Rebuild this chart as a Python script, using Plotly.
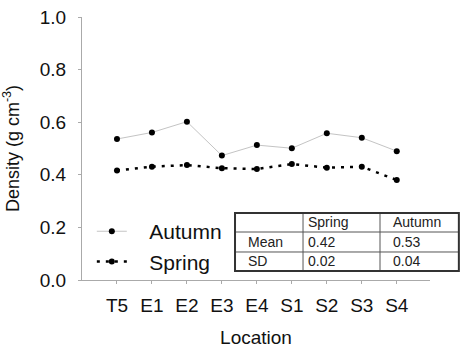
import plotly.graph_objects as go

locations = ["T5", "E1", "E2", "E3", "E4", "S1", "S2", "S3", "S4"]
autumn = [0.536, 0.561, 0.602, 0.473, 0.513, 0.501, 0.558, 0.541, 0.490]
spring = [0.416, 0.431, 0.437, 0.425, 0.422, 0.441, 0.427, 0.431, 0.380]

table_header = ["", "Spring", "Autumn"]
table_rows = ["Mean", "SD"]
table_spring = ["0.42", "0.02"]
table_autumn = ["0.53", "0.04"]

y_ticks = [0.0, 0.2, 0.4, 0.6, 0.8, 1.0]

FONT = "Liberation Sans, Arial, sans-serif"
xpos = list(range(len(locations)))

fig = go.Figure()
fig.add_trace(go.Scatter(
    x=xpos, y=autumn, name="\u00a0\u00a0\u00a0Autumn", mode="lines+markers",
    line=dict(color="#c4c4c4", width=1),
    marker=dict(color="black", size=6), legendgroup="a",
))
fig.add_trace(go.Scatter(
    x=xpos, y=spring, name="\u00a0\u00a0\u00a0Spring", mode="lines+markers",
    line=dict(color="black", width=2.5, dash="3px,6px"),
    marker=dict(color="black", size=6), legendgroup="s",
))

# Summary table drawn with shapes and annotations (paper coordinates)
col_edges = [0.4048, 0.5847, 0.7884, 0.997]
row_edges = [0.2548, 0.1825, 0.1065, 0.0342]
text_x = [0.4339, 0.5926, 0.8175]

for xe in col_edges[1:-1]:
    fig.add_shape(type="line", xref="paper", yref="paper",
                  x0=xe, x1=xe, y0=row_edges[-1], y1=row_edges[0],
                  line=dict(color="#555", width=1))
for ye in row_edges[1:-1]:
    fig.add_shape(type="line", xref="paper", yref="paper",
                  x0=col_edges[0], x1=col_edges[-1], y0=ye, y1=ye,
                  line=dict(color="#555", width=1))
fig.add_shape(type="rect", xref="paper", yref="paper",
              x0=col_edges[0], x1=col_edges[-1], y0=row_edges[-1], y1=row_edges[0],
              line=dict(color="#333", width=2), fillcolor="rgba(0,0,0,0)")

table_cols = [[table_header[0]] + table_rows,
              [table_header[1]] + table_spring,
              [table_header[2]] + table_autumn]
for ci, col in enumerate(table_cols):
    for ri, txt in enumerate(col):
        if not txt:
            continue
        fig.add_annotation(
            xref="paper", yref="paper", x=text_x[ci],
            y=(row_edges[ri] + row_edges[ri + 1]) / 2,
            text=txt, showarrow=False, xanchor="left", yanchor="middle",
            font=dict(family=FONT, size=14, color="#222"))

fig.update_layout(
    width=462, height=353,
    margin=dict(l=82, r=2, t=17, b=73),
    paper_bgcolor="white", plot_bgcolor="white",
    font=dict(family=FONT, color="#111"),
    showlegend=True,
    legend=dict(x=0.026, y=0.262, xanchor="left", yanchor="top",
                bgcolor="rgba(0,0,0,0)", font=dict(size=21, color="#111"),
                tracegroupgap=5, traceorder="normal"),
    xaxis=dict(domain=[0, 0.9206], range=[-1, 8.95], automargin=False,
               tickmode="array", tickvals=xpos, ticktext=locations,
               showgrid=False, zeroline=False, showline=True,
               linecolor="#aaaaaa", linewidth=1,
               ticks="outside", ticklen=3, tickcolor="#aaaaaa",
               ticklabelstandoff=5,
               tickfont=dict(size=19, color="#111"),
               title=dict(text="Location", font=dict(size=19, color="#111"))),
    yaxis=dict(range=[0, 1.0], tickmode="array", tickvals=y_ticks,
               automargin=False,
               tickformat=".1f", showgrid=False, zeroline=False,
               showline=True, linecolor="#aaaaaa", linewidth=1,
               ticks="outside", ticklen=3, tickcolor="#aaaaaa",
               ticklabelstandoff=8,
               tickfont=dict(size=19, color="#111"),
               title=dict(text="Density (g cm<sup>-3</sup>)",
                          font=dict(size=18, color="#111"))),
)

fig.write_html("out.html", config={"displayModeBar": False},
               post_script="document.body.style.margin='0px';")
